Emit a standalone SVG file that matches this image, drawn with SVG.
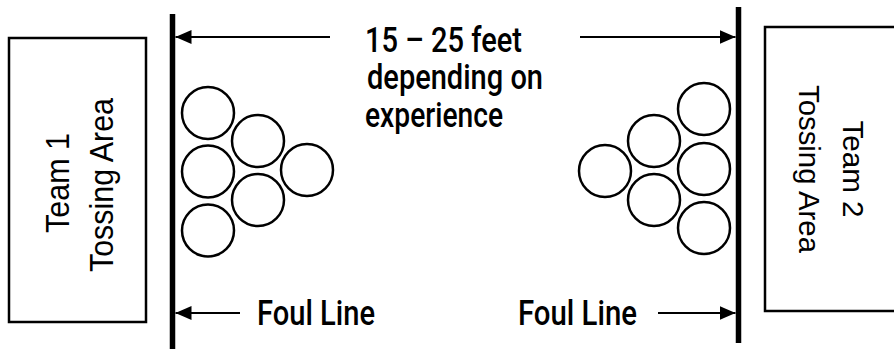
<svg xmlns="http://www.w3.org/2000/svg" width="894" height="349" viewBox="0 0 894 349">
<style>
.box{fill:#fff;stroke:#000;stroke-width:2.5}
.ball{fill:none;stroke:#000;stroke-width:2.5}
.wall{stroke:#000;stroke-width:5.5}
.arr{stroke:#000;stroke-width:2;fill:none}
.t{font-family:"Liberation Sans",Arial,sans-serif;fill:#000}
.c{font-family:Roboto,"Liberation Sans",Arial,sans-serif;font-weight:500;font-size:35px}
.s{font-size:30px}
.sl{font-size:32.5px}
</style>
<defs>
<marker id="ah" viewBox="0 0 16 14" refX="16" refY="7" markerWidth="16" markerHeight="14" markerUnits="userSpaceOnUse" orient="auto">
<path d="M0,0 L16,7 L0,14 Z" fill="#000"/>
</marker>
</defs>
<rect width="894" height="349" fill="#fff"/>
<g id="team1">
<rect class="box" x="9" y="38" width="137" height="284"/>
<text class="t sl" transform="translate(68.5,183) rotate(-90)" text-anchor="middle" textLength="100" lengthAdjust="spacingAndGlyphs">Team 1</text>
<text class="t sl" transform="translate(113,185) rotate(-90)" text-anchor="middle" textLength="174" lengthAdjust="spacingAndGlyphs">Tossing Area</text>
</g>
<g id="team2">
<rect class="box" x="765" y="27" width="140" height="284"/>
<text class="t s" transform="translate(843,169) rotate(90)" text-anchor="middle" textLength="97" lengthAdjust="spacingAndGlyphs">Team 2</text>
<text class="t s" transform="translate(799,169) rotate(90)" text-anchor="middle" textLength="168" lengthAdjust="spacingAndGlyphs">Tossing Area</text>
</g>
<g id="foul-line-left">
<line class="wall" x1="172.5" y1="14" x2="172.5" y2="349"/>
</g>
<g id="foul-line-right">
<line class="wall" x1="738.5" y1="7" x2="738.5" y2="343"/>
</g>
<g id="cups-left">
<circle class="ball" cx="208" cy="113" r="26"/>
<circle class="ball" cx="208" cy="171.5" r="26"/>
<circle class="ball" cx="208" cy="230.5" r="26"/>
<circle class="ball" cx="258" cy="141" r="26"/>
<circle class="ball" cx="258" cy="200" r="26"/>
<circle class="ball" cx="307" cy="170" r="26"/>
</g>
<g id="cups-right">
<circle class="ball" cx="704" cy="109" r="26"/>
<circle class="ball" cx="704" cy="169" r="26"/>
<circle class="ball" cx="704" cy="228" r="26"/>
<circle class="ball" cx="654" cy="141" r="26"/>
<circle class="ball" cx="654" cy="200" r="26"/>
<circle class="ball" cx="605" cy="171" r="26"/>
</g>
<g id="distance-label">
<text class="t c" x="365" y="52" textLength="157" lengthAdjust="spacingAndGlyphs">15 – 25 feet</text>
<text class="t c" x="367" y="89" textLength="176" lengthAdjust="spacingAndGlyphs">depending on</text>
<text class="t c" x="365" y="127" textLength="138" lengthAdjust="spacingAndGlyphs">experience</text>
</g>
<g id="foul-label-left">
<text class="t c" x="257" y="325" textLength="118" lengthAdjust="spacingAndGlyphs">Foul Line</text>
</g>
<g id="foul-label-right">
<text class="t c" x="518" y="325" textLength="119" lengthAdjust="spacingAndGlyphs">Foul Line</text>
</g>
<g id="connectors">
<line class="arr" x1="330" y1="37" x2="175.5" y2="37" marker-end="url(#ah)"/>
<line class="arr" x1="580" y1="37" x2="735.5" y2="37" marker-end="url(#ah)"/>
<line class="arr" x1="240" y1="313" x2="175.5" y2="313" marker-end="url(#ah)"/>
<line class="arr" x1="658" y1="313" x2="735.5" y2="313" marker-end="url(#ah)"/>
</g>
</svg>
